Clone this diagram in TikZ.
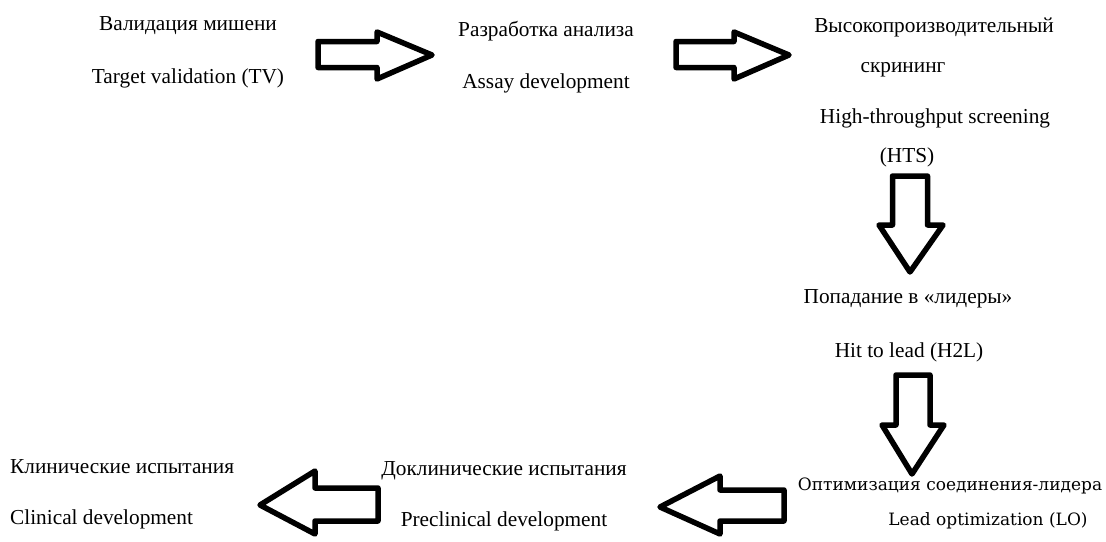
\documentclass[tikz,border=0pt]{standalone}
\usepackage{fontspec}
\setmainfont{Liberation Serif}
\newfontfamily\lofont{DejaVu Serif}
\begin{document}
\begin{tikzpicture}[x=1pt,y=-1pt,
  lbl/.style={inner sep=0pt,text height=14pt,text depth=4pt,font=\fontsize{21.3}{25}\selectfont},
  lolbl/.style={lbl,font=\fontsize{17}{20}\lofont},
  blk/.style={line width=5.5pt,line join=round}]
\useasboundingbox (0,0) rectangle (1106,541);
\node[lbl] (tvru) at (188,25) {Валидация мишени};
\node[lbl] (tven) at (188,78) {Target validation (TV)};
\node[lbl] (adru) at (546,31) {Разработка анализа};
\node[lbl] (aden) at (546,83) {Assay development};
\node[lbl] (htsru) at (934,27) {Высокопроизводительный};
\node[lbl] (htsrub) at (903,67) {скрининг};
\node[lbl] (htsen) at (935,118) {High-throughput screening};
\node[lbl] (htsenb) at (907,157) {(HTS)};
\node[lbl] (hlru) at (908,298) {Попадание в «лидеры»};
\node[lbl] (hlen) at (909,352) {Hit to lead (H2L)};
\node[lolbl] (loru) at (950,485) {Оптимизация соединения-лидера};
\node[lolbl] (loen) at (988,520) {Lead optimization (LO)};
\node[lbl] (pdru) at (504,470) {Доклинические испытания};
\node[lbl] (pden) at (504,521) {Preclinical development};
\node[lbl,anchor=west] (cdru) at (10,468) {Клинические испытания};
\node[lbl,anchor=west] (cden) at (10,519) {Clinical development};
\foreach \x/\t in {318/377,676/734}
\draw[blk] (\x,41.5) -- (\t,41.5) -- (\t,32) -- (\t+55,55) -- (\t,79) -- (\t,67.5) -- (\x,67.5) -- cycle;
\draw[blk] (892.5,176) -- (927.5,176) -- (927.5,225) -- (943,225) -- (910,272) -- (879,225) -- (892.5,225) -- cycle;
\draw[blk] (896,375) -- (930,375) -- (930,425) -- (944,425) -- (912,474) -- (882,425) -- (896,425) -- cycle;
\draw[blk] (784,490) -- (720,490) -- (720,476) -- (660,507) -- (720,534) -- (720,521) -- (784,521) -- cycle;
\draw[blk] (378,488) -- (315,488) -- (315,471) -- (260,505) -- (315,534) -- (315,521) -- (378,521) -- cycle;
\end{tikzpicture}
\end{document}
